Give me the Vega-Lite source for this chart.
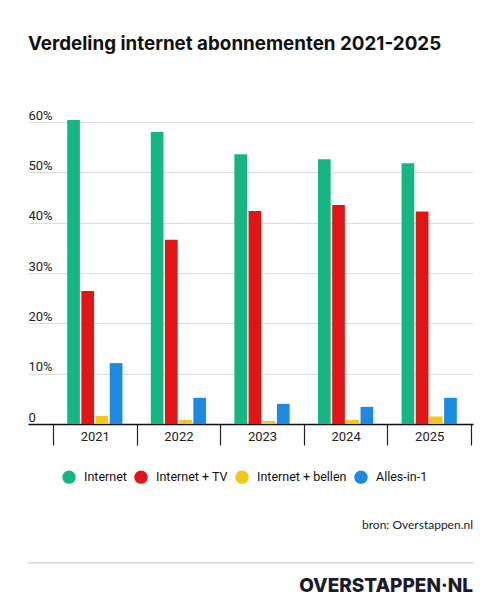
{
  "$schema": "https://vega.github.io/schema/vega-lite/v6.json",
  "background": "white",
  "padding": {"left": 27, "right": 28, "top": 35, "bottom": 0},
  "title": {
    "text": "Verdeling internet abonnementen 2021-2025",
    "anchor": "start",
    "font": "Inter",
    "fontSize": 18.8,
    "fontWeight": 700,
    "color": "#111111",
    "offset": 55,
    "frame": "group"
  },
  "datasets": {
    "bars": [
      {"jaar": "2021", "type": "Internet", "aandeel": 60.4},
      {"jaar": "2021", "type": "Internet + TV", "aandeel": 26.4},
      {"jaar": "2021", "type": "Internet + bellen", "aandeel": 1.6},
      {"jaar": "2021", "type": "Alles-in-1", "aandeel": 12.1},
      {"jaar": "2022", "type": "Internet", "aandeel": 58.0},
      {"jaar": "2022", "type": "Internet + TV", "aandeel": 36.6},
      {"jaar": "2022", "type": "Internet + bellen", "aandeel": 0.8},
      {"jaar": "2022", "type": "Alles-in-1", "aandeel": 5.2},
      {"jaar": "2023", "type": "Internet", "aandeel": 53.6},
      {"jaar": "2023", "type": "Internet + TV", "aandeel": 42.3},
      {"jaar": "2023", "type": "Internet + bellen", "aandeel": 0.6},
      {"jaar": "2023", "type": "Alles-in-1", "aandeel": 4.0},
      {"jaar": "2024", "type": "Internet", "aandeel": 52.6},
      {"jaar": "2024", "type": "Internet + TV", "aandeel": 43.5},
      {"jaar": "2024", "type": "Internet + bellen", "aandeel": 0.8},
      {"jaar": "2024", "type": "Alles-in-1", "aandeel": 3.4},
      {"jaar": "2025", "type": "Internet", "aandeel": 51.8},
      {"jaar": "2025", "type": "Internet + TV", "aandeel": 42.2},
      {"jaar": "2025", "type": "Internet + bellen", "aandeel": 1.5},
      {"jaar": "2025", "type": "Alles-in-1", "aandeel": 5.2}
    ],
    "footer": [
      {"rol": "bron", "tekst": "bron: Overstappen.nl"},
      {"rol": "logo", "tekst": "OVERSTAPPEN·NL"}
    ]
  },
  "resolve": {"legend": {"color": "independent"}, "scale": {"color": "independent"}},
  "vconcat": [
    {
      "width": 445,
      "height": 302,
      "data": {"name": "bars"},
      "mark": {"type": "bar"},
      "encoding": {
        "x": {
          "field": "jaar",
          "type": "nominal",
          "scale": {"paddingInner": 0, "paddingOuter": 0.1615, "align": 0.926},
          "axis": {
            "title": null,
            "labelAngle": 0,
            "labelFont": "Roboto",
            "labelFontSize": 13,
            "labelColor": "#222222",
            "labelPadding": -15,
            "labelBaseline": "top",
            "tickBand": "extent",
            "tickSize": 21,
            "tickColor": "#222222",
            "tickWidth": 1.2,
            "domainColor": "#111111",
            "domainWidth": 1.6,
            "grid": false
          }
        },
        "xOffset": {
          "field": "type",
          "type": "nominal",
          "sort": ["Internet", "Internet + TV", "Internet + bellen", "Alles-in-1"],
          "scale": {"paddingInner": 0.105, "paddingOuter": 1.17}
        },
        "y": {
          "field": "aandeel",
          "type": "quantitative",
          "scale": {"domain": [0, 60], "nice": false},
          "axis": {
            "title": null,
            "values": [0, 10, 20, 30, 40, 50, 60],
            "labelExpr": "datum.value == 0 ? '0' : datum.value + '%'",
            "labelFont": "Roboto",
            "labelFontSize": 13,
            "labelColor": "#222222",
            "labelAlign": "left",
            "labelBaseline": "alphabetic",
            "labelOffset": -3,
            "labelPadding": 0,
            "ticks": false,
            "tickSize": 0,
            "domain": false,
            "grid": true,
            "gridColor": "#dcdcdc",
            "gridWidth": 1
          }
        },
        "color": {
          "field": "type",
          "type": "nominal",
          "sort": ["Internet", "Internet + TV", "Internet + bellen", "Alles-in-1"],
          "scale": {
            "domain": ["Internet", "Internet + TV", "Internet + bellen", "Alles-in-1"],
            "range": ["#14b784", "#e31414", "#f6c619", "#1a8be0"]
          },
          "legend": {
            "title": null,
            "orient": "none",
            "legendX": 34,
            "legendY": 348,
            "direction": "horizontal",
            "symbolType": "circle",
            "symbolSize": 180,
            "symbolStrokeWidth": 0,
            "labelFont": "Roboto",
            "labelFontSize": 12.5,
            "labelColor": "#111111",
            "labelOffset": 8,
            "columnPadding": 7,
            "padding": 0
          }
        }
      }
    },
    {
      "width": 445,
      "height": 57,
      "data": {"name": "footer"},
      "layer": [
        {
          "transform": [{"filter": "datum.rol == 'bron'"}],
          "mark": {"type": "text", "align": "right", "baseline": "middle", "font": "Lato", "fontSize": 12, "color": "#222222"},
          "encoding": {
            "text": {"field": "tekst"},
            "x": {"datum": 1, "type": "quantitative", "scale": {"domain": [0, 1]}, "axis": null},
            "y": {"field": "rol", "type": "ordinal", "scale": {"type": "point", "domain": ["bron", "gap", "lijn", "logo"], "padding": 0}, "axis": null}
          }
        },
        {
          "mark": {"type": "rule", "color": "#d6d6d6", "strokeWidth": 1},
          "encoding": {
            "y": {"datum": "lijn", "type": "ordinal"}
          }
        },
        {
          "transform": [{"filter": "datum.rol == 'logo'"}],
          "mark": {"type": "text", "align": "right", "baseline": "middle", "font": "Inter", "fontWeight": 800, "fontSize": 19, "color": "#1b1b2b", "dy": 4},
          "encoding": {
            "text": {"field": "tekst"},
            "x": {"datum": 1, "type": "quantitative"},
            "y": {"field": "rol", "type": "ordinal"}
          }
        }
      ]
    }
  ],
  "spacing": 35,
  "config": {
    "view": {"stroke": null}
  }
}
